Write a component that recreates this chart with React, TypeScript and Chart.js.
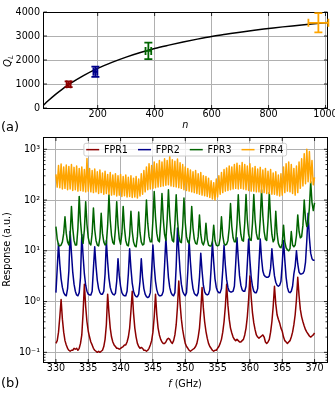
import React, { useEffect, useRef } from 'react';
import { Chart, registerables } from 'chart.js';
Chart.register(...registerables);

const FONT = "'DejaVu Sans', sans-serif";
const FS = 9.6;

// ---------- panel (a) ----------
const fitN = [10, 25, 50, 75, 100, 150, 200, 250, 300, 350, 400, 450, 500, 550, 600, 650, 700, 750, 800, 850, 900, 950, 1008];
const fitQ = [120, 290, 550, 780, 990, 1350, 1650, 1900, 2120, 2310, 2480, 2620, 2750, 2870, 2980, 3070, 3160, 3240, 3310, 3380, 3440, 3500, 3560];
const resN = [98, 192, 378, 975];
const resQ = [990, 1510, 2380, 3550];
const resNErr = [7, 7, 10, 35];
const resQErr = [120, 210, 340, 400];
const resColors = ['#8b0000', '#00008b', '#006400', '#ffa500'];
const nTicks = [200, 400, 600, 800, 1000];
const qTicks = [0, 1000, 2000, 3000, 4000];

// ---------- panel (b) ----------
const freqs = [
  330, 330.2, 330.4, 330.6, 330.8, 331, 331.2, 331.4, 331.6, 331.8,
  332, 332.2, 332.4, 332.6, 332.8, 333, 333.2, 333.4, 333.6, 333.8,
  334, 334.2, 334.4, 334.6, 334.8, 335, 335.2, 335.4, 335.6, 335.8,
  336, 336.2, 336.4, 336.6, 336.8, 337, 337.2, 337.4, 337.6, 337.8,
  338, 338.2, 338.4, 338.6, 338.8, 339, 339.2, 339.4, 339.6, 339.8,
  340, 340.2, 340.4, 340.6, 340.8, 341, 341.2, 341.4, 341.6, 341.8,
  342, 342.2, 342.4, 342.6, 342.8, 343, 343.2, 343.4, 343.6, 343.8,
  344, 344.2, 344.4, 344.6, 344.8, 345, 345.2, 345.4, 345.6, 345.8,
  346, 346.2, 346.4, 346.6, 346.8, 347, 347.2, 347.4, 347.6, 347.8,
  348, 348.2, 348.4, 348.6, 348.8, 349, 349.2, 349.4, 349.6, 349.8,
  350, 350.2, 350.4, 350.6, 350.8, 351, 351.2, 351.4, 351.6, 351.8,
  352, 352.2, 352.4, 352.6, 352.8, 353, 353.2, 353.4, 353.6, 353.8,
  354, 354.2, 354.4, 354.6, 354.8, 355, 355.2, 355.4, 355.6, 355.8,
  356, 356.2, 356.4, 356.6, 356.8, 357, 357.2, 357.4, 357.6, 357.8,
  358, 358.2, 358.4, 358.6, 358.8, 359, 359.2, 359.4, 359.6, 359.8,
  360, 360.2, 360.4, 360.6, 360.8, 361, 361.2, 361.4, 361.6, 361.8,
  362, 362.2, 362.4, 362.6, 362.8, 363, 363.2, 363.4, 363.6, 363.8,
  364, 364.2, 364.4, 364.6, 364.8, 365, 365.2, 365.4, 365.6, 365.8,
  366, 366.2, 366.4, 366.6, 366.8, 367, 367.2, 367.4, 367.6, 367.8,
  368, 368.2, 368.4, 368.6, 368.8, 369, 369.2, 369.4, 369.6, 369.8,
  370,
];

const fpr1 = [
  0.15, 0.17, 0.25, 0.5, 1.1, 0.45, 0.25, 0.17, 0.14, 0.12,
  0.11, 0.105, 0.11, 0.11, 0.12, 0.115, 0.12, 0.11, 0.12, 0.15,
  0.22, 0.6, 2.2, 0.8, 0.4, 0.26, 0.2, 0.16, 0.14, 0.12,
  0.11, 0.105, 0.1, 0.105, 0.1, 0.105, 0.11, 0.13, 0.18, 0.35,
  1.4, 0.6, 0.3, 0.2, 0.16, 0.14, 0.13, 0.12, 0.12, 0.115,
  0.12, 0.125, 0.13, 0.14, 0.14, 0.16, 0.2, 0.3, 0.65, 1.6,
  0.6, 0.3, 0.2, 0.15, 0.13, 0.12, 0.125, 0.12, 0.11, 0.11,
  0.105, 0.11, 0.12, 0.14, 0.17, 0.25, 0.5, 1.4, 0.55, 0.3,
  0.22, 0.18, 0.16, 0.15, 0.15, 0.16, 0.18, 0.19, 0.18, 0.16,
  0.15, 0.17, 0.22, 0.35, 0.8, 2.55, 0.9, 0.45, 0.28, 0.2,
  0.15, 0.13, 0.12, 0.11, 0.105, 0.11, 0.115, 0.12, 0.13, 0.15,
  0.2, 0.3, 0.65, 1.9, 0.75, 0.4, 0.26, 0.19, 0.15, 0.13,
  0.12, 0.11, 0.105, 0.11, 0.11, 0.12, 0.13, 0.15, 0.18, 0.25,
  0.4, 0.8, 2.2, 0.85, 0.45, 0.3, 0.24, 0.2, 0.18, 0.17,
  0.18, 0.17, 0.16, 0.16, 0.17, 0.18, 0.22, 0.3, 0.5, 1.1,
  3.2, 1.2, 0.6, 0.38, 0.28, 0.22, 0.2, 0.19, 0.2, 0.21,
  0.22, 0.2, 0.16, 0.15, 0.16, 0.18, 0.25, 0.4, 0.8, 2.0,
  0.9, 0.55, 0.45, 0.38, 0.3, 0.26, 0.2, 0.17, 0.16, 0.15,
  0.16, 0.17, 0.2, 0.25, 0.35, 0.55, 1.1, 3.0, 1.3, 0.7,
  0.5, 0.4, 0.33, 0.28, 0.25, 0.23, 0.21, 0.2, 0.21, 0.22,
  0.24,
];

const fpr2 = [
  1.5, 4.5, 14, 5.5, 2.8, 1.9, 1.5, 1.35, 1.3, 1.8,
  4, 24, 9, 3.8, 2.2, 1.6, 1.35, 1.3, 1.5, 3,
  21, 8, 3.5, 2.1, 1.6, 1.4, 1.35, 1.35, 1.6, 4.5,
  12, 5, 2.6, 1.8, 1.5, 1.4, 1.4, 1.6, 3.5, 16,
  6, 2.9, 1.9, 1.55, 1.4, 1.35, 1.45, 2.5, 7, 3.2,
  2, 1.5, 1.35, 1.3, 1.3, 1.6, 3.5, 11, 4.5, 2.3,
  1.6, 1.35, 1.25, 1.25, 1.4, 2.5, 7, 3, 1.8, 1.4,
  1.25, 1.2, 1.25, 1.5, 4, 13, 5, 2.5, 1.7, 1.4,
  1.3, 1.3, 1.35, 1.6, 5, 18, 7, 3, 1.9, 1.5,
  1.35, 1.3, 1.5, 5, 28, 10, 4, 2.2, 1.6, 1.4,
  1.3, 1.5, 4, 16, 6, 2.8, 1.8, 1.45, 1.35, 1.3,
  1.5, 3, 9, 4, 2.1, 1.55, 1.4, 1.35, 1.4, 1.7,
  4.5, 15, 6, 2.8, 1.9, 1.6, 1.5, 1.5, 1.8, 4.2,
  13, 5.2, 2.7, 1.9, 1.6, 1.55, 1.55, 1.6, 2, 5.5,
  18, 7, 3.2, 2.1, 1.7, 1.6, 1.6, 2, 5.5, 17,
  6.5, 3, 2, 1.6, 1.5, 1.5, 1.8, 5.5, 17, 7,
  4, 3.3, 3.1, 3, 3, 3.2, 4.5, 11, 5.5, 3.2,
  2.4, 2.1, 2, 2.1, 2.5, 5.5, 16, 6.5, 3, 1.9,
  1.55, 1.5, 1.6, 2, 3.5, 5, 10, 5.5, 3.8, 3.5,
  3.5, 3.6, 4, 6, 16, 55, 18, 9, 7, 6.5,
  6.5,
];

const fpr3 = [
  30, 17, 13, 12.5, 13, 15, 22, 47, 22, 15,
  13, 20, 75, 28, 16, 13, 13, 28, 118, 38,
  19, 14, 26, 93, 33, 18, 14, 13, 22, 70,
  26, 16, 13, 12.5, 18, 55, 22, 15, 13, 14,
  32, 127, 40, 20, 14.5, 13.5, 27, 93, 32, 17,
  13.5, 22, 75, 28, 16, 13, 12.5, 20, 60, 24,
  15, 12.5, 12, 19, 58, 23, 15, 13, 13.5, 29,
  100, 35, 19, 15, 15, 40, 147, 46, 22, 16,
  15, 36, 135, 43, 21, 16, 40, 160, 48, 23,
  16, 15, 34, 127, 40, 20, 15, 14.5, 30, 110,
  36, 19, 15, 14, 24, 75, 28, 17, 14, 13.5,
  19, 51, 21, 14.5, 13, 16, 35, 17, 13, 12.5,
  12.5, 15, 32, 16, 13, 12.5, 13, 18, 47, 20,
  14, 13, 13.5, 16, 28, 85, 30, 18, 15, 15,
  34, 127, 40, 21, 16, 15.5, 35, 128, 41, 21,
  16.5, 16, 35, 128, 41, 22, 17, 17, 42, 160,
  49, 24, 17, 16, 38, 140, 44, 21, 15, 17,
  60, 22, 14, 12, 11.5, 14, 32, 15, 11.5, 10.5,
  10, 11, 24, 13, 12, 13, 20, 51, 24, 18,
  19, 32, 100, 42, 30, 35, 70, 230, 90, 62,
  88,
];

const fpr4 = [
  320, 180, 480, 175, 510, 165, 450, 170, 490, 160,
  460, 165, 500, 155, 440, 160, 470, 150, 420, 155,
  450, 150, 400, 145, 660, 150, 420, 145, 380, 140,
  410, 145, 360, 135, 390, 140, 340, 130, 370, 135,
  320, 130, 350, 125, 310, 128, 330, 120, 300, 125,
  320, 118, 290, 122, 310, 115, 280, 118, 300, 112,
  270, 115, 290, 110, 260, 120, 330, 130, 380, 145,
  450, 160, 520, 165, 480, 170, 560, 175, 520, 180,
  600, 185, 560, 190, 650, 195, 600, 200, 740, 190,
  620, 185, 580, 180, 640, 175, 540, 170, 500, 160,
  450, 155, 420, 150, 390, 145, 360, 140, 380, 135,
  330, 130, 350, 125, 300, 122, 290, 118, 270, 112,
  240, 105, 220, 100, 260, 115, 300, 130, 350, 140,
  400, 150, 430, 155, 470, 160, 450, 165, 500, 170,
  530, 165, 480, 170, 550, 165, 500, 160, 470, 155,
  520, 150, 430, 150, 460, 145, 410, 145, 440, 140,
  390, 140, 420, 135, 370, 135, 400, 130, 340, 130,
  360, 125, 310, 120, 330, 125, 450, 140, 520, 150,
  560, 145, 500, 135, 420, 125, 470, 140, 560, 170,
  650, 190, 820, 210, 1000, 230, 900, 220, 600, 200,
  280,
];

const seriesNames = ['FPR1', 'FPR2', 'FPR3', 'FPR4'];
const seriesColors = ['#8b0000', '#00008b', '#006400', '#ffa500'];
const fTicks = [330, 335, 340, 345, 350, 355, 360, 365, 370];
const respTicks = [0.1, 1, 10, 100, 1000];
const respTickLabels = ['10⁻¹', '10⁰', '10¹', '10²', '10³'];

// ---------- plugins ----------
const framePlugin = {
  id: 'frame',
  afterDatasetsDraw(chart: any) {
    const { ctx, chartArea: a, scales } = chart;
    const xs = scales.x;
    const ys = scales.y;
    const L = Math.floor(a.left) + 0.5;
    const R = Math.floor(a.right) + 0.5;
    const T = Math.floor(a.top) + 0.5;
    const B = Math.floor(a.bottom) + 0.5;
    ctx.save();
    ctx.strokeStyle = '#000';
    ctx.lineWidth = 0.8;
    ctx.beginPath();
    xs.ticks.forEach((t: any) => {
      const p = xs.getPixelForValue(t.value);
      ctx.moveTo(p, B); ctx.lineTo(p, B - 3.5);
      ctx.moveTo(p, T); ctx.lineTo(p, T + 3.5);
    });
    ys.ticks.forEach((t: any) => {
      const p = ys.getPixelForValue(t.value);
      ctx.moveTo(L, p); ctx.lineTo(L + 3.5, p);
      ctx.moveTo(R, p); ctx.lineTo(R - 3.5, p);
    });
    if (ys.type === 'logarithmic') {
      for (let d = -2; d <= 3; d++) {
        for (let m = 2; m <= 9; m++) {
          const v = m * Math.pow(10, d);
          if (v < ys.min || v > ys.max) continue;
          const p = ys.getPixelForValue(v);
          ctx.moveTo(L, p); ctx.lineTo(L + 2, p);
          ctx.moveTo(R, p); ctx.lineTo(R - 2, p);
        }
      }
    }
    ctx.stroke();
    ctx.lineWidth = 1;
    ctx.strokeRect(L, T, R - L, B - T);
    ctx.restore();
  },
};

const errorBarPlugin = {
  id: 'errorBars',
  afterDatasetsDraw(chart: any) {
    const { ctx, scales } = chart;
    const xs = scales.x;
    const ys = scales.y;
    ctx.save();
    ctx.lineWidth = 1.8;
    const cap = 4;
    resN.forEach((n, i) => {
      const cx = xs.getPixelForValue(n);
      const cy = ys.getPixelForValue(resQ[i]);
      const x0 = xs.getPixelForValue(n - resNErr[i]);
      const x1 = xs.getPixelForValue(n + resNErr[i]);
      const y0 = ys.getPixelForValue(resQ[i] - resQErr[i]);
      const y1 = ys.getPixelForValue(resQ[i] + resQErr[i]);
      ctx.strokeStyle = resColors[i];
      ctx.beginPath();
      ctx.moveTo(cx, y0); ctx.lineTo(cx, y1);
      ctx.moveTo(cx - cap, y0); ctx.lineTo(cx + cap, y0);
      ctx.moveTo(cx - cap, y1); ctx.lineTo(cx + cap, y1);
      ctx.moveTo(x0, cy); ctx.lineTo(x1, cy);
      ctx.moveTo(x0, cy - cap); ctx.lineTo(x0, cy + cap);
      ctx.moveTo(x1, cy - cap); ctx.lineTo(x1, cy + cap);
      ctx.stroke();
    });
    ctx.restore();
  },
};

const insideLegendPlugin = {
  id: 'insideLegend',
  afterDraw(chart: any) {
    const { ctx, chartArea: a } = chart;
    ctx.save();
    ctx.font = `${FS}px ${FONT}`;
    const sample = 13;
    const gap = 4.7;
    const spacing = 10;
    const padL = 2.3;
    const padR = 3.3;
    const boxH = 12.7;
    const items = chart.data.datasets.map((ds: any) => ({
      label: ds.label,
      color: ds.borderColor,
      w: ctx.measureText(ds.label).width,
    }));
    let total = padL + padR + spacing * (items.length - 1);
    items.forEach((it: any) => { total += sample + gap + it.w; });
    const cxm = (a.left + a.right) / 2;
    const bx = cxm - total / 2;
    const by = a.top + 6.3;
    ctx.fillStyle = 'rgba(255,255,255,0.8)';
    ctx.strokeStyle = '#cccccc';
    ctx.lineWidth = 1;
    ctx.beginPath();
    ctx.roundRect(bx, by, total, boxH, 2);
    ctx.fill();
    ctx.stroke();
    const cy = by + boxH / 2;
    let x = bx + padL;
    ctx.textBaseline = 'middle';
    ctx.textAlign = 'left';
    items.forEach((it: any) => {
      ctx.strokeStyle = it.color;
      ctx.lineWidth = 1.5;
      ctx.beginPath();
      ctx.moveTo(x, cy);
      ctx.lineTo(x + sample, cy);
      ctx.stroke();
      ctx.fillStyle = '#000';
      ctx.fillText(it.label, x + sample + gap, cy + 0.5);
      x += sample + gap + it.w + spacing;
    });
    ctx.restore();
  },
};

const gridOpts = { color: '#b0b0b0', lineWidth: 1, drawTicks: false };

export default function App() {
  const topRef = useRef<HTMLCanvasElement>(null);
  const botRef = useRef<HTMLCanvasElement>(null);

  useEffect(() => {
    Chart.defaults.font.family = FONT;
    Chart.defaults.color = '#000';

    const top = new Chart(topRef.current as HTMLCanvasElement, {
      type: 'line',
      data: {
        datasets: [
          {
            label: 'fit',
            data: fitN.map((n, i) => ({ x: n, y: fitQ[i] })),
            borderColor: '#000',
            borderWidth: 1.5,
            pointRadius: 0,
            cubicInterpolationMode: 'monotone',
            fill: false,
          },
        ],
      },
      options: {
        responsive: false,
        animation: false,
        devicePixelRatio: 1,
        events: [],
        layout: { padding: { top: 12, right: 7.5, left: 0, bottom: 0 }, autoPadding: false },
        plugins: { legend: { display: false }, tooltip: { enabled: false } },
        scales: {
          x: {
            type: 'linear',
            min: 8,
            max: 1007,
            afterBuildTicks: (s: any) => { s.ticks = nTicks.map((v) => ({ value: v })); },
            afterFit: (s: any) => { s.height = 23; s.paddingLeft = 0; s.paddingRight = 0; },
            ticks: { callback: (v: any) => String(v), padding: 1, font: { size: FS }, maxRotation: 0, autoSkip: false },
            grid: gridOpts,
            border: { display: false },
            title: { display: true, text: 'n', font: { size: FS, style: 'italic' }, padding: { top: 0, bottom: 0 } },
          },
          y: {
            type: 'linear',
            min: 0,
            max: 4000,
            afterBuildTicks: (s: any) => { s.ticks = qTicks.map((v) => ({ value: v })); },
            afterFit: (s: any) => { s.width = 43; s.paddingTop = 0; s.paddingBottom = 0; },
            ticks: { callback: (v: any) => String(v), padding: 3, font: { size: FS } },
            grid: gridOpts,
            border: { display: false },
          },
        },
      },
      plugins: [framePlugin, errorBarPlugin],
    } as any);

    const bot = new Chart(botRef.current as HTMLCanvasElement, {
      type: 'line',
      data: {
        datasets: [fpr1, fpr2, fpr3, fpr4].map((arr, k) => ({
          label: seriesNames[k],
          data: freqs.map((f, i) => ({ x: f, y: arr[i] })),
          borderColor: seriesColors[k],
          backgroundColor: seriesColors[k],
          borderWidth: 1.5,
          borderJoinStyle: 'round',
          pointRadius: 0,
          tension: 0,
          fill: false,
          order: 4 - k,
        })),
      },
      options: {
        responsive: false,
        animation: false,
        devicePixelRatio: 1,
        events: [],
        layout: { padding: { top: 6, right: 7.5, left: 0, bottom: 0 }, autoPadding: false },
        plugins: { legend: { display: false }, tooltip: { enabled: false } },
        scales: {
          x: {
            type: 'linear',
            min: 328,
            max: 372,
            afterBuildTicks: (s: any) => { s.ticks = fTicks.map((v) => ({ value: v })); },
            afterFit: (s: any) => { s.height = 32; s.paddingLeft = 0; s.paddingRight = 0; },
            ticks: { callback: (v: any) => String(v), padding: 0.5, font: { size: FS }, maxRotation: 0, autoSkip: false },
            grid: gridOpts,
            border: { display: false },
          },
          y: {
            type: 'logarithmic',
            min: 0.0645,
            max: 1745,
            afterBuildTicks: (s: any) => { s.ticks = respTicks.map((v) => ({ value: v })); },
            afterFit: (s: any) => { s.width = 43; s.paddingTop = 0; s.paddingBottom = 0; },
            ticks: {
              callback: (v: any) => { const i = respTicks.indexOf(v); return i >= 0 ? respTickLabels[i] : ''; },
              padding: 3,
              font: { size: FS },
            },
            grid: gridOpts,
            border: { display: false },
            title: { display: true, text: 'Response (a.u.)', font: { size: FS }, padding: { top: 1.5, bottom: 0 } },
          },
        },
      },
      plugins: [framePlugin, insideLegendPlugin],
    } as any);

    return () => {
      top.destroy();
      bot.destroy();
    };
  }, []);

  const abs: React.CSSProperties = { position: 'absolute', whiteSpace: 'nowrap', lineHeight: 1, color: '#000', fontFamily: FONT };

  return (
    <div style={{ position: 'fixed', left: 0, top: 0, width: 335, height: 394, background: '#fff', overflow: 'hidden' }}>
      <canvas ref={topRef} width={335} height={131} style={{ position: 'absolute', left: 0, top: 0, width: 335, height: 131 }} />
      <canvas ref={botRef} width={335} height={263} style={{ position: 'absolute', left: 0, top: 131, width: 335, height: 263 }} />
      <div style={{ ...abs, left: 7.5, top: 61, fontSize: 10, fontStyle: 'italic', transform: 'translate(-50%,-50%) rotate(-90deg)' }}>
        Q<span style={{ fontSize: 7, position: 'relative', top: 2 }}>L</span>
      </div>
      <div style={{ ...abs, left: 185, top: 383.5, fontSize: FS, transform: 'translate(-50%,-50%)' }}>
        <span style={{ fontStyle: 'italic' }}>f</span> (GHz)
      </div>
      <div style={{ ...abs, left: 1, top: 126, fontSize: 13, transform: 'translateY(-50%)' }}>(a)</div>
      <div style={{ ...abs, left: 1, top: 381.5, fontSize: 13, transform: 'translateY(-50%)' }}>(b)</div>
    </div>
  );
}
